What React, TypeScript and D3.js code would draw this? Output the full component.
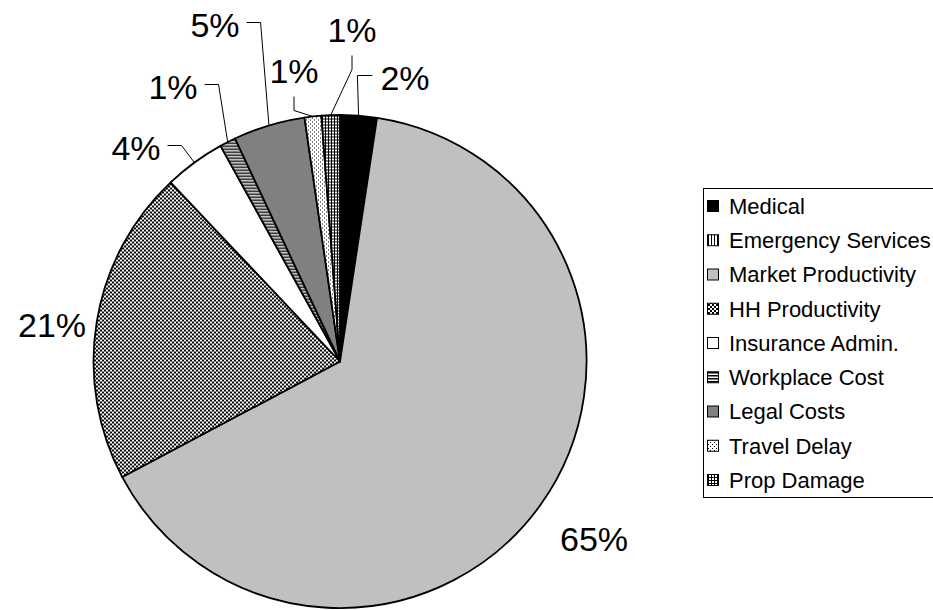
import React from 'react';
import * as d3 from 'd3';

// cost categories, clockwise from 12 o'clock
const categories = [
  'Medical',
  'Emergency Services',
  'Market Productivity',
  'HH Productivity',
  'Insurance Admin.',
  'Workplace Cost',
  'Legal Costs',
  'Travel Delay',
  'Prop Damage',
];

// share of total cost (%)
const shares = [2.4, 0, 64.8, 20.7, 4.0, 1.05, 4.7, 1.1, 1.2];

const fills = [
  '#000000',
  'url(#pat-vert)',
  '#c0c0c0',
  'url(#pat-check)',
  '#ffffff',
  'url(#pat-hstripe)',
  '#808080',
  'url(#pat-dots)',
  'url(#pat-grid)',
];

// label centre relative to pie centre, plus which side the leader sits on
const labelLayout: Record<string, { dx: number; dy: number; leader: string }> = {
  'Medical': { dx: 65, dy: -284, leader: 'right' },
  'Market Productivity': { dx: 254, dy: 177, leader: 'none' },
  'HH Productivity': { dx: -288, dy: -37, leader: 'none' },
  'Insurance Admin.': { dx: -204, dy: -214, leader: 'left' },
  'Workplace Cost': { dx: -167, dy: -275, leader: 'left' },
  'Legal Costs': { dx: -125, dy: -337, leader: 'left' },
  'Travel Delay': { dx: -46, dy: -291, leader: 'below' },
  'Prop Damage': { dx: 12, dy: -332, leader: 'below' },
};

const width = 933;
const height = 610;
const cx = 340;
const cy = 361.5;
const radius = 246.5;
const labelFont = 34;
const legendFont = 22;

export default function App() {
  const total = d3.sum(shares);
  const pie = d3.pie<number>().sort(null).value(d => d);
  const arcs = pie(shares);
  const arc = d3.arc<d3.PieArcDatum<number>>().innerRadius(0).outerRadius(radius);
  const line = d3.line();

  const legendY = d3.scalePoint<string>()
    .domain(categories)
    .range([206, 480]);

  return (
    <svg
      width={width}
      height={height}
      style={{ position: 'absolute', left: 0, top: 0, background: '#fff' }}
      fontFamily="'Liberation Sans', Arial, sans-serif"
    >
      <defs>
        <pattern id="pat-vert" width={3} height={3} patternUnits="userSpaceOnUse">
          <rect width={3} height={3} fill="#fff" />
          <rect width={1} height={3} fill="#000" />
        </pattern>
        <pattern id="pat-check" width={4} height={4} patternUnits="userSpaceOnUse">
          <rect width={4} height={4} fill="#fff" />
          <rect width={2} height={2} fill="#000" />
          <rect x={2} y={2} width={2} height={2} fill="#000" />
        </pattern>
        <pattern id="pat-hstripe" width={3} height={3} patternUnits="userSpaceOnUse">
          <rect width={3} height={3} fill="#fff" />
          <rect width={3} height={1.5} fill="#000" />
        </pattern>
        <pattern id="pat-dots" width={4} height={4} patternUnits="userSpaceOnUse">
          <rect width={4} height={4} fill="#fff" />
          <rect width={1} height={1} fill="#000" />
          <rect x={2} y={2} width={1} height={1} fill="#000" />
        </pattern>
        <pattern id="pat-grid" width={3} height={3} patternUnits="userSpaceOnUse">
          <rect width={3} height={3} fill="#fff" />
          <rect width={1} height={3} fill="#000" />
          <rect width={3} height={1} fill="#000" />
        </pattern>
      </defs>

      <g transform={`translate(${cx},${cy})`}>
        {arcs.map((a, i) => a.value > 0 && (
          <path
            key={categories[i]}
            d={arc(a) || ''}
            fill={fills[i]}
            stroke="#000"
            strokeWidth={1.8}
            strokeLinejoin="round"
          />
        ))}

        {arcs.map((a, i) => {
          if (a.value <= 0) return null;
          const lay = labelLayout[categories[i]];
          const text = Math.round((a.value / total) * 100) + '%';
          const w = (text.length - 1) * 0.556 * labelFont + 0.889 * labelFont;
          const mid = (a.startAngle + a.endAngle) / 2;
          const edge: [number, number] = [radius * Math.sin(mid), -radius * Math.cos(mid)];
          let pts: [number, number][] | null = null;
          if (lay.leader === 'left') {
            const end: [number, number] = [lay.dx + w / 2 + 7, lay.dy - 2];
            pts = [end, [end[0] + 14, end[1]], edge];
          } else if (lay.leader === 'right') {
            const end: [number, number] = [lay.dx - w / 2 - 8, lay.dy - 2];
            pts = [end, [end[0] - 15, end[1]], edge];
          } else if (lay.leader === 'below') {
            const end: [number, number] = [lay.dx, lay.dy + 26];
            pts = [end, [end[0], end[1] + 14], edge];
          }
          return (
            <g key={'lab-' + categories[i]}>
              {pts && (
                <path d={line(pts) || ''} fill="none" stroke="#000" strokeWidth={1} />
              )}
              <text
                x={lay.dx}
                y={lay.dy + 0.358 * labelFont}
                textAnchor="middle"
                fontSize={labelFont}
                fill="#000"
              >
                {text}
              </text>
            </g>
          );
        })}
      </g>

      {/* legend */}
      <rect x={703.5} y={188.5} width={260} height={309} fill="#fff" stroke="#000" strokeWidth={1} />
      {categories.map((c, i) => {
        const y = legendY(c) || 0;
        return (
          <g key={'leg-' + c}>
            <rect x={707.5} y={y - 5.5} width={11} height={11} fill={fills[i]} stroke="#000" strokeWidth={1} />
            <text x={729} y={y + 0.36 * legendFont} fontSize={legendFont} fill="#000">
              {c}
            </text>
          </g>
        );
      })}
    </svg>
  );
}
